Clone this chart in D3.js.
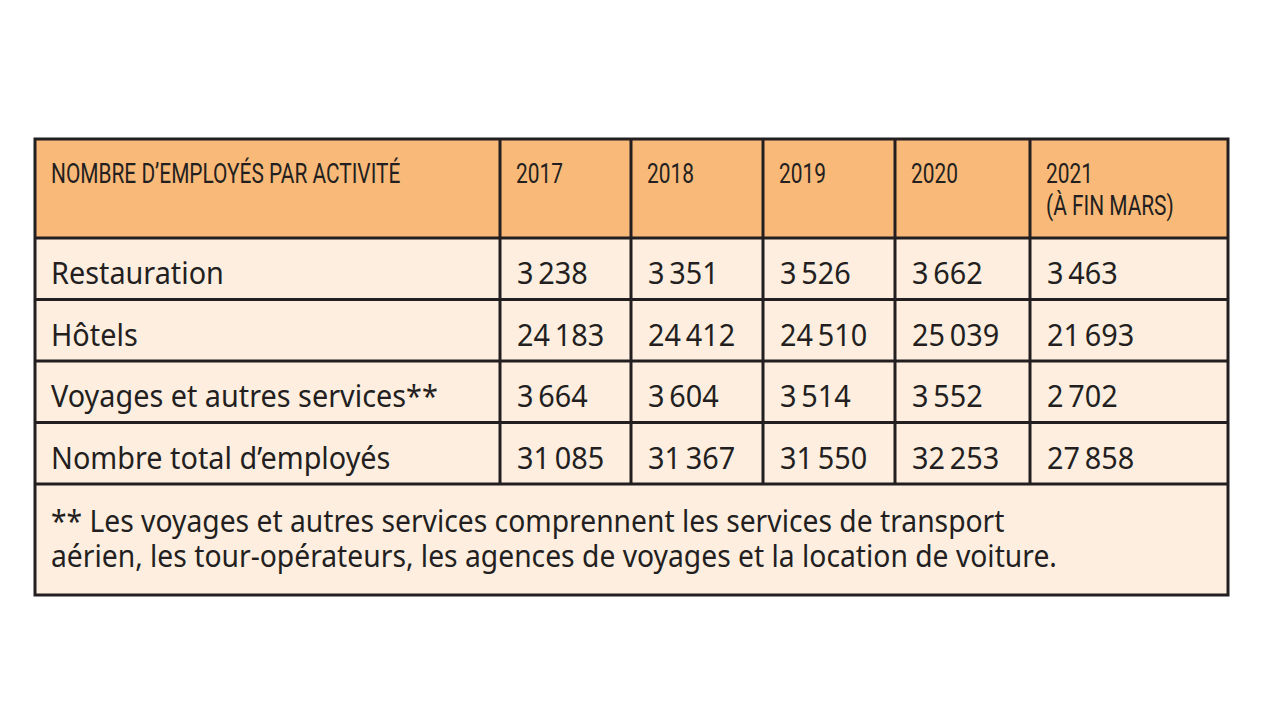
<!DOCTYPE html>
<html><head><meta charset="utf-8">
<script src="https://cdn.jsdelivr.net/npm/d3@7"></script>
<style>html,body{margin:0;padding:0;background:#fff;}</style>
</head><body>
<svg id="chart" width="1280" height="720"></svg>
<script>
const headerTitle = "NOMBRE D\u2019EMPLOYÉS PAR ACTIVITÉ";
const years = ["2017", "2018", "2019", "2020", "2021\n(À FIN MARS)"];
const activities = ["Restauration", "Hôtels", "Voyages et autres services**", "Nombre total d\u2019employés"];
const restauration = [3238, 3351, 3526, 3662, 3463];
const hotels = [24183, 24412, 24510, 25039, 21693];
const voyages = [3664, 3604, 3514, 3552, 2702];
const total = [31085, 31367, 31550, 32253, 27858];
const footnote = ["** Les voyages et autres services comprennent les services de transport",
  "aérien, les tour-opérateurs, les agences de voyages et la location de voiture."];

const rows = [restauration, hotels, voyages, total];

const svg = d3.select("#chart");
const tLeft = 35, tRight = 1228, tTop = 139;
const colEdges = [tLeft, 500, 631, 763, 895, 1030, tRight];
const headerH = 99, rowH = 61.5, footH = 111;
const rowTops = [tTop, tTop + headerH];
for (let i = 1; i < rows.length; i++) rowTops.push(rowTops[rowTops.length - 1] + rowH);
const footTop = rowTops[rowTops.length - 1] + rowH;
const tBottom = footTop + footH;

const fr = d3.formatLocale({decimal: ",", thousands: "\u2009", grouping: [3], currency: ["", " €"]});
const fmt = fr.format(",d");

const stroke = "#231f20", sw = 3;
const headFill = "#f9b978", bodyFill = "#fdeee0";

svg.append("rect").attr("x", tLeft).attr("y", tTop).attr("width", tRight - tLeft).attr("height", headerH).attr("fill", headFill);
svg.append("rect").attr("x", tLeft).attr("y", tTop + headerH).attr("width", tRight - tLeft).attr("height", tBottom - tTop - headerH).attr("fill", bodyFill);

const headFont = "'Liberation Sans Narrow','Arial Narrow',Roboto,sans-serif";
const hg = svg.append("g");
const headerCells = [headerTitle].concat(years);
headerCells.forEach((t, i) => {
  const lines = t.split("\n");
  const x = colEdges[i] + 16;
  const txt = hg.append("text").attr("font-family", headFont).attr("font-size", 28).attr("fill", "#231f20")
    .attr("transform", `translate(${x},0) scale(0.746,1)`);
  lines.forEach((l, j) => txt.append("tspan").attr("x", 0).attr("y", 183 + j * 32).text(l));
});

const bodyFont = "'Noto Sans','Open Sans',sans-serif";
const sx = 0.93;
function bodyText(x, y, size, str) {
  return svg.append("text").attr("transform", `translate(${x},${y}) scale(${sx},1)`)
    .attr("font-family", bodyFont).attr("font-size", size).attr("fill", "#231f20").text(str);
}
rows.forEach((vals, r) => {
  const base = rowTops[r + 1] + 46;
  bodyText(colEdges[0] + 16, base, 31, activities[r]);
  vals.forEach((v, c) => bodyText(colEdges[c + 1] + 17, base, 31, fmt(v)));
});

const ft = bodyText(tLeft + 16, footTop + 48, 30.4, null);
footnote.forEach((l, j) => ft.append("tspan").attr("x", 0).attr("y", j * 35).text(l));

const g = svg.append("g").attr("stroke", stroke).attr("stroke-width", sw).attr("fill", "none");
g.append("rect").attr("x", tLeft).attr("y", tTop).attr("width", tRight - tLeft).attr("height", tBottom - tTop);
rowTops.slice(1).concat([footTop]).forEach(y => g.append("line").attr("x1", tLeft).attr("x2", tRight).attr("y1", y).attr("y2", y));
colEdges.slice(1, -1).forEach(x => g.append("line").attr("x1", x).attr("x2", x).attr("y1", tTop).attr("y2", footTop));
</script>
</body></html>
